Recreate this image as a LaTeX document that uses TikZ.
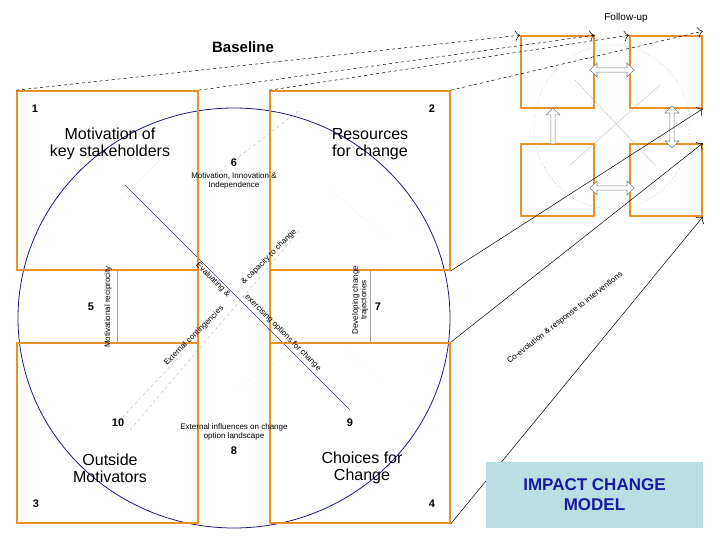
\documentclass[tikz,border=0pt]{standalone}
\usepackage{fontspec}
\setmainfont{Liberation Sans}
\usetikzlibrary{arrows.meta,shapes.arrows}
\definecolor{org}{HTML}{E8902A}
\definecolor{navy}{HTML}{1A1A80}
\definecolor{lblue}{HTML}{B9DFE3}
\definecolor{tblue}{HTML}{1A1AA0}
\tikzset{
 obox/.style={draw=org,line width=1.6pt,inner sep=0},
 big/.style={font=\fontsize{16}{17}\selectfont,align=center},
 num/.style={font=\bfseries\fontsize{11}{12}\selectfont},
 tiny/.style={font=\fontsize{8}{8.5}\selectfont,align=center,inner sep=1pt},
 dashline/.style={dashed,-{To[length=5pt]},line width=0.5pt},
 sol/.style={-{To[length=5pt]},line width=0.5pt},
 harrow/.style={draw=gray,fill=white,line width=0.6pt,minimum height=36pt,minimum width=14pt,single arrow head extend=3pt,double arrow head extend=3pt,inner sep=1pt},
}
\begin{document}
\begin{tikzpicture}[x=1pt,y=-1pt]
\useasboundingbox (0,0) rectangle (720,540);
% big circle
\draw[navy,line width=0.8pt] (234,318) ellipse[x radius=216,y radius=210];
% cross faint lines
\draw[gray!70,line width=0.4pt] (117,270) -- (117,343);
\draw[gray!70,line width=0.4pt] (370,270) -- (370,343);
\draw[org,line width=1.6pt] (198,205) -- (198,343) (270,205) -- (270,343)
  (135,270) -- (198,270) (135,343) -- (198,343)
  (270,270) -- (335,270) (270,343) -- (345,343) (385,270)--(450,270) (385,343)--(450,343);
\draw[gray!60,dashed,line width=0.4pt] (130,430) -- (300,230) (215,175) -- (300,110) (190,345) -- (120,420) ;
\draw[gray!40,dotted] (120,200) -- (175,145) (330,190) -- (390,240) (345,350) -- (380,380) (235,390) -- (295,350);
\draw[navy!60!gray,line width=0.5pt] (125,185) -- (350,410);
% big boxes
\node[obox,minimum width=181pt,minimum height=179pt] (B1) at (107.5,180.5) {};
\node[obox,minimum width=180pt,minimum height=179pt] (B2) at (360,180.5) {};
\node[obox,minimum width=181pt,minimum height=180pt] (B3) at (107.5,433) {};
\node[obox,minimum width=180pt,minimum height=180pt] (B4) at (360,433) {};
% labels
\node[font=\bfseries\fontsize{15}{16}\selectfont] (bl) at (243,47) {Baseline};
\node[font=\fontsize{10}{11}\selectfont] (fu) at (626,18) {Follow-up};
\node[big] (t1) at (110,144) {Motivation of\\key stakeholders};
\node[big] (t2) at (370,144) {Resources\\for change};
\node[big] (t3) at (110,468) {Outside\\Motivators};
\node[big] (t4) at (362,468) {Choices for\\Change};
\node[num] (n1) at (35,109) {1};
\node[num] (n2) at (432,109) {2};
\node[num] (n3) at (36,504) {3};
\node[num] (n4) at (432,504) {4};
\node[num] (n6) at (234,163) {6};
\node[num] (n5) at (91,307) {5};
\node[num] (n7) at (378,307) {7};
\node[num] (n10) at (118,423) {10};
\node[num] (n9) at (350,423) {9};
\node[num] (n8) at (234,451) {8};
\node[tiny] (l6) at (234,181) {Motivation, Innovation \&\\Independence};
\node[tiny] (l8) at (234,432) {External influences on change\\option landscape};
\node[tiny,rotate=90] (l5) at (108,307) {Motivational reciprocity};
\node[tiny,rotate=90] (l7) at (360,300) {Developing change\\trajectories};
\node[tiny,rotate=-45] (d1) at (213,280) {Evaluating \&};
\node[tiny,rotate=-45] (d2) at (283,333) {exercising options for change};
\node[tiny,rotate=45] (d3) at (194,336) {External contingencies};
\node[tiny,rotate=45] (d4) at (269,257) {\& capacity to change};
% follow-up
\draw[gray,dotted] (612,127) ellipse[x radius=78,y radius=82];
\draw[gray!50,line width=0.4pt] (575,80) -- (655,165) (570,165) -- (660,85);
\node[obox,minimum width=73pt,minimum height=72pt] (S1) at (557.5,72) {};
\node[obox,minimum width=72pt,minimum height=72pt] (S2) at (666,72) {};
\node[obox,minimum width=73pt,minimum height=72pt] (S3) at (557.5,180) {};
\node[obox,minimum width=72pt,minimum height=72pt] (S4) at (666,180) {};
\node[harrow,double arrow,minimum height=44pt] (h1) at (612,70) {};
\node[harrow,double arrow,minimum height=44pt] (h2) at (612,188) {};
\node[harrow,single arrow,shape border rotate=90] (v1) at (553,127) {};
\node[harrow,double arrow,shape border rotate=90,minimum height=42pt] (v2) at (672,127) {};
% connectors
\draw[dashline] (B1.north west) -- (S1.north west);
\draw[dashline] (B1.north east) -- (S1.north east);
\draw[dashline] (B2.north west) -- (S2.north west);
\draw[dashline] (B2.north east) -- ([yshift=4pt]S2.north east);
\draw[sol] (B2.south east) -- (S2.south east);
\draw[sol] (B4.north east) -- (S4.north east);
\draw[sol] (B4.south east) -- (S4.south east);
\node[tiny,rotate=38] (co) at (565,318) {Co-evolution \& response to interventions};
% title box
\node[fill=lblue,minimum width=217pt,minimum height=66pt,align=center,text=tblue,font=\bfseries\fontsize{17}{20}\selectfont] (im) at (594.5,495) {IMPACT CHANGE\\MODEL};
\end{tikzpicture}
\end{document}
